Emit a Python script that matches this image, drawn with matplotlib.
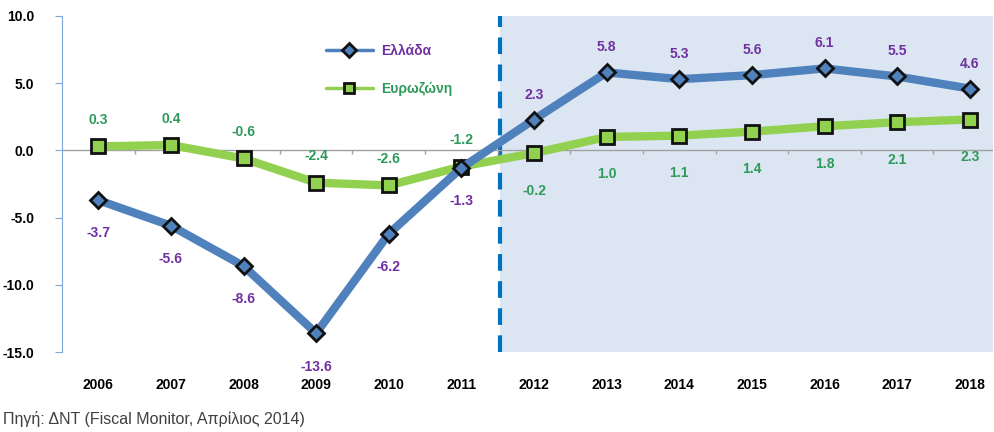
import numpy as np
import matplotlib.pyplot as plt

plt.rcParams['font.family'] = ['Liberation Sans', 'DejaVu Sans']

years = ['2006', '2007', '2008', '2009', '2010', '2011', '2012',
         '2013', '2014', '2015', '2016', '2017', '2018']
greece = [-3.7, -5.6, -8.6, -13.6, -6.2, -1.3, 2.3, 5.8, 5.3, 5.6, 6.1, 5.5, 4.6]
eurozone = [0.3, 0.4, -0.6, -2.4, -2.6, -1.2, -0.2, 1.0, 1.1, 1.4, 1.8, 2.1, 2.3]
forecast_start = 5.53

x = np.arange(len(years))
blue = '#4f81bd'
green = '#92d050'
purple = '#7030a0'
dgreen = '#2e9a5a'

fig = plt.figure(figsize=(9.95, 4.32), dpi=100)
ax = fig.add_axes([0.0623, 0.185, 0.9357, 0.778])

ax.axvspan(forecast_start, 13, color='#dce6f2', zorder=0, lw=0)
ax.axvline(forecast_start, color='#0070c0', lw=3, ls=(0, (4, 2.5)), zorder=1)

ax.axhline(0, color='#a0a0a0', lw=1, zorder=1)
ax.vlines(np.arange(0.5, len(years) - 0.5), -0.3, 0, color='#a0a0a0', lw=1, zorder=1)

ax.plot(x, greece, color=blue, lw=6, marker='D', ms=8.5, mfc=blue,
        mec='#111111', mew=2, zorder=4, label='Ελλάδα', solid_capstyle='round')
ax.plot(x, eurozone, color=green, lw=6, marker='s', ms=9.5, mfc=green,
        mec='#111111', mew=2, zorder=3, label='Ευρωζώνη', solid_capstyle='round')

for i, v in enumerate(greece):
    off = -24 if v < 0 else 18
    ax.annotate(f'{v:.1f}', (i, v), xytext=(0, off), textcoords='offset points',
                ha='center', va='center', color=purple, fontsize=10, fontweight='bold')
for i, v in enumerate(eurozone):
    off = 19 if i < 6 else -27
    ax.annotate(f'{v:.1f}', (i, v), xytext=(0, off), textcoords='offset points',
                ha='center', va='center', color=dgreen, fontsize=10, fontweight='bold')

ax.set_xlim(-0.5, 12.32)
ax.set_ylim(-15, 10)
ax.set_yticks([10, 5, 0, -5, -10, -15])
ax.set_yticklabels(['10.0', '5.0', '0.0', '-5.0', '-10.0', '-15.0'],
                   fontsize=10, fontweight='bold')
ax.tick_params(axis='y', length=5, color='#7ea6d8', pad=15)
ax.set_xticks(x)
ax.set_xticklabels(years, fontsize=10, fontweight='bold')
ax.tick_params(axis='x', length=0, pad=19)

for s in ['top', 'right', 'bottom']:
    ax.spines[s].set_visible(False)
ax.spines['left'].set_color('#7ea6d8')

leg = ax.legend(loc='upper left', bbox_to_anchor=(0.27, 0.955), frameon=False,
                handlelength=3.4, labelspacing=1.75, handletextpad=0.6,
                prop={'weight': 'bold', 'size': 10})
for t, c in zip(leg.get_texts(), [purple, dgreen]):
    t.set_color(c)
for h in leg.legend_handles:
    h.set_linewidth(2.5)
    h.set_markersize(7)

fig.text(0.003, 0.012, 'Πηγή: ΔΝΤ (Fiscal Monitor, Απρίλιος 2014)',
         color='#404040', fontsize=11.5, ha='left', va='bottom')

fig.savefig('out.png', dpi=100)
